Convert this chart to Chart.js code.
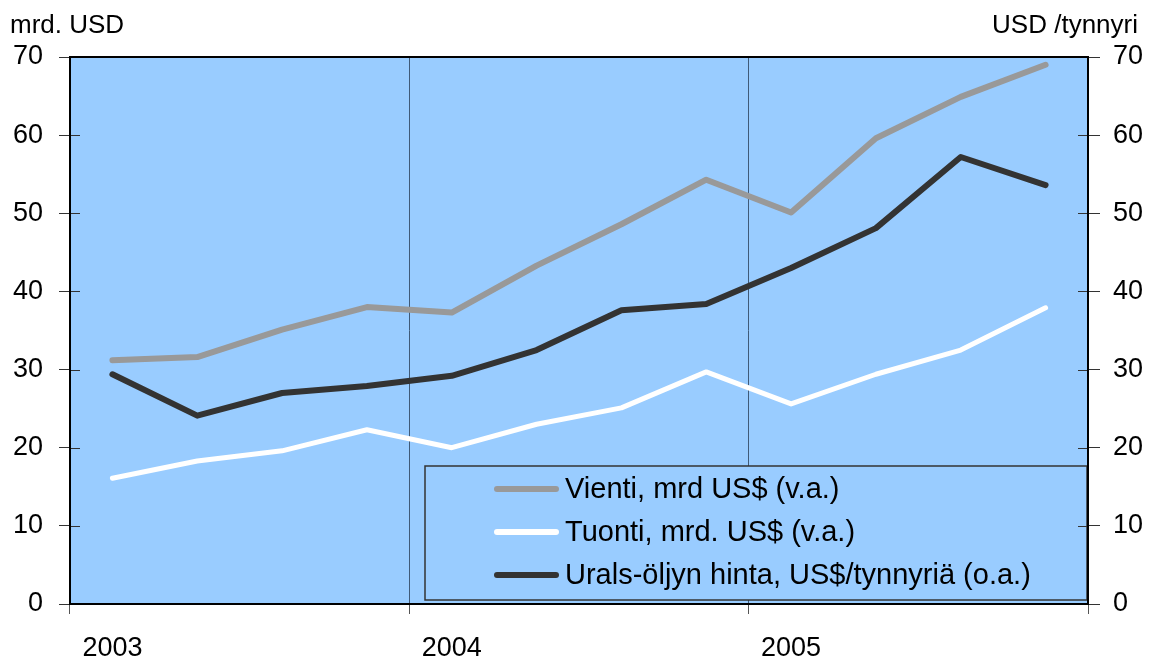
<!DOCTYPE html>
<html>
<head>
<meta charset="utf-8">
<script src="https://cdn.jsdelivr.net/npm/chart.js"></script>
<style>
  html, body { margin: 0; padding: 0; background: #fff; }
</style>
</head>
<body>
<canvas id="chart" width="1153" height="664"></canvas>
<script>
// quarterly data, 2003 Q1 .. 2005 Q4
const quarters = ['2003 Q1','2003 Q2','2003 Q3','2003 Q4','2004 Q1','2004 Q2','2004 Q3','2004 Q4','2005 Q1','2005 Q2','2005 Q3','2005 Q4'];
const years = ['2003', '2004', '2005'];
const vienti = [31.2, 31.6, 35.1, 38.0, 37.3, 43.3, 48.6, 54.3, 50.1, 59.6, 64.9, 69.0];
const tuonti = [16.1, 18.3, 19.6, 22.3, 20.0, 23.0, 25.1, 29.7, 25.6, 29.4, 32.5, 37.9];
const urals = [29.4, 24.1, 27.0, 27.9, 29.2, 32.5, 37.6, 38.4, 43.0, 48.1, 57.2, 53.6];
const seriesNames = ['Vienti, mrd US$ (v.a.)', 'Tuonti, mrd. US$ (v.a.)', 'Urals-öljyn hinta, US$/tynnyriä (o.a.)'];
const leftTitle = 'mrd. USD';
const rightTitle = 'USD /tynnyri';

const FONT = '"Liberation Sans", Arial, sans-serif';
const PLOT_BG = '#99CCFF';

const frame = {
  id: 'frame',
  beforeDraw(chart) {
    const { ctx, chartArea: a } = chart;
    ctx.save();
    ctx.fillStyle = PLOT_BG;
    ctx.fillRect(a.left, a.top, a.right - a.left, a.bottom - a.top);
    ctx.restore();
  },
  afterDraw(chart) {
    const { ctx, chartArea: a } = chart;
    ctx.save();
    // inner halves of the value-axis tick marks
    ctx.strokeStyle = '#333';
    ctx.lineWidth = 1;
    ['y', 'y1'].forEach((id) => {
      const s = chart.scales[id];
      const x = id === 'y' ? a.left : a.right;
      const dir = id === 'y' ? 1 : -1;
      s.ticks.forEach((t) => {
        const py = Math.round(s.getPixelForValue(t.value)) + 0.5;
        ctx.beginPath();
        ctx.moveTo(x, py);
        ctx.lineTo(x + dir * 10, py);
        ctx.stroke();
      });
    });

    ctx.strokeStyle = '#000';
    ctx.lineWidth = 2;
    ctx.strokeRect(a.left, a.top, a.right - a.left, a.bottom - a.top);

    // axis titles
    ctx.fillStyle = '#000';
    ctx.font = '26px ' + FONT;
    ctx.textBaseline = 'alphabetic';
    ctx.textAlign = 'left';
    ctx.fillText(leftTitle, 10, 33);
    ctx.textAlign = 'right';
    ctx.fillText(rightTitle, 1138, 33);
    ctx.restore();
  }
};

const boxLegend = {
  id: 'boxLegend',
  afterDatasetsDraw(chart) {
    const { ctx } = chart;
    const x0 = 425, y0 = 466, w = 662, h = 134;
    ctx.save();
    ctx.fillStyle = PLOT_BG;
    ctx.fillRect(x0, y0, w, h);
    ctx.strokeStyle = '#333';
    ctx.lineWidth = 1.5;
    ctx.strokeRect(x0, y0, w, h);
    ctx.font = '29px ' + FONT;
    ctx.textBaseline = 'middle';
    ctx.textAlign = 'left';
    chart.data.datasets.forEach((ds, i) => {
      const y = 489 + i * 43;
      ctx.strokeStyle = ds.borderColor;
      ctx.lineWidth = 6;
      ctx.lineCap = 'round';
      ctx.beginPath();
      ctx.moveTo(497, y);
      ctx.lineTo(556, y);
      ctx.stroke();
      ctx.fillStyle = '#000';
      ctx.fillText(ds.label, 565, y + 1);
    });
    ctx.restore();
  }
};

const yearGrid = (col) => (c) => (c.index === undefined || c.index % 4 === 0) ? col : 'rgba(0,0,0,0)';

new Chart(document.getElementById('chart'), {
  type: 'line',
  data: {
    labels: quarters,
    datasets: [
      { label: seriesNames[0], data: vienti, borderColor: '#999999', borderWidth: 6, yAxisID: 'y' },
      { label: seriesNames[1], data: tuonti, borderColor: '#ffffff', borderWidth: 5, yAxisID: 'y' },
      { label: seriesNames[2], data: urals, borderColor: '#333333', borderWidth: 6, yAxisID: 'y1' }
    ]
  },
  options: {
    responsive: false,
    animation: false,
    devicePixelRatio: 1,
    layout: { padding: { top: 57, left: 0, right: 0, bottom: 0 } },
    elements: {
      point: { radius: 0 },
      line: { tension: 0, borderCapStyle: 'round', borderJoinStyle: 'round' }
    },
    plugins: { legend: { display: false }, tooltip: { enabled: false } },
    scales: {
      x: {
        type: 'category',
        offset: true,
        afterFit: (s) => { s.height = 60; },
        border: { display: false },
        grid: {
          offset: true,
          color: yearGrid('#3f5a78'),
          tickColor: yearGrid('#555'),
          tickLength: 10,
          lineWidth: 1
        },
        ticks: {
          autoSkip: false,
          maxRotation: 0,
          padding: 18,
          color: '#000',
          font: { family: FONT, size: 27 },
          callback: (v, i) => (i % 4 === 0 ? years[i / 4] : '')
        }
      },
      y: {
        position: 'left',
        min: 0, max: 70,
        afterFit: (s) => { s.width = 70; },
        border: { display: false },
        grid: { drawOnChartArea: false, tickLength: 11, color: '#333' },
        ticks: { stepSize: 10, padding: 16, color: '#000', font: { family: FONT, size: 27 } }
      },
      y1: {
        position: 'right',
        min: 0, max: 70,
        afterFit: (s) => { s.width = 65; },
        border: { display: false },
        grid: { drawOnChartArea: false, tickLength: 12, color: '#333' },
        ticks: { stepSize: 10, padding: 13, color: '#000', font: { family: FONT, size: 27 } }
      }
    }
  },
  plugins: [frame, boxLegend]
});
</script>
</body>
</html>
